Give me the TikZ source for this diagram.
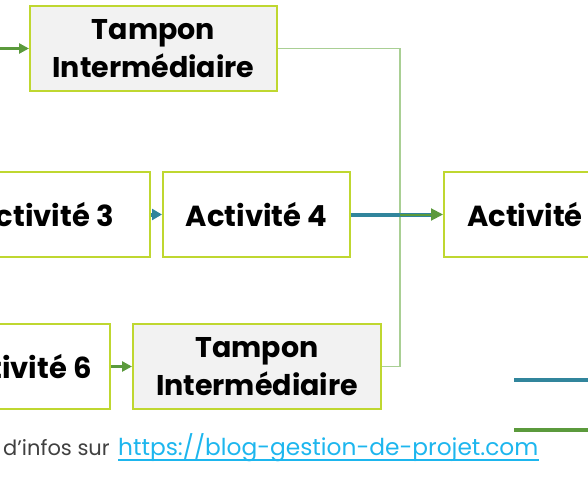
\documentclass[tikz,border=0pt]{standalone}
\usepackage{fontspec}
\setmainfont{Poppins}[Ligatures=Common]
\usetikzlibrary{arrows.meta}
\definecolor{boxborder}{HTML}{BFD730}
\definecolor{tamponfill}{HTML}{F2F2F2}
\definecolor{bluearrow}{HTML}{31859C}
\definecolor{greenarrow}{HTML}{5B9A3C}
\definecolor{thingreen}{HTML}{A9CF94}
\definecolor{linkblue}{HTML}{1DB6EE}
\definecolor{footgray}{HTML}{404040}
\tikzset{
  actbox/.style={draw=boxborder, line width=2pt, fill=white, minimum width=187pt, minimum height=85pt, inner sep=0pt, font=\fontsize{29}{34}\selectfont\bfseries, align=center},
  tamponbox/.style={actbox, fill=tamponfill, minimum width=247pt, font=\fontsize{28.5}{38}\selectfont\bfseries},
  bluelink/.style={draw=bluearrow, line width=4pt},
  greenlink/.style={draw=greenarrow, line width=3pt},
  thinlink/.style={draw=thingreen, line width=1.5pt},
  headg/.style={-{Triangle[length=10pt,width=10pt]}},
}
\begin{document}
\begin{tikzpicture}[x=1pt,y=-1pt]
\useasboundingbox (0,0) rectangle (588,476);
\clip (0,0) rectangle (588,476);
\node[tamponbox] (tampA) at (153.5,48.5) {Tampon\\Intermédiaire};
\node[actbox, minimum width=212pt] (act3) at (44,214.5) {Activité 3};
\node[actbox] (act4) at (256.5,214.5) {Activité 4};
\node[actbox] (act5) at (537.5,214.5) {Activité 5};
\node[actbox, minimum width=177pt] (act6) at (21.5,366.5) {Activité 6};
\node[tamponbox, minimum width=248pt] (tampB) at (257,366.5) {Tampon\\Intermédiaire};
\coordinate (inA) at (0,48.5);
\coordinate (turn) at (400,48.5);
\coordinate (turnB) at (400,366.5);
\coordinate (merge) at (400,214.5);
\draw[greenlink, headg] (inA) -- (tampA.west);
\draw[thinlink] (tampA.east) -- (turn) -- (turnB) -- (tampB.east);
\draw[bluelink, -{Triangle[length=10pt,width=11pt]}] (act3.east) -- (act4.west);
\draw[bluelink] (act4.east) -- ([xshift=-10pt]act5.west);
\draw[greenarrow, line width=2pt, -{Triangle[length=12pt,width=12pt]}] (merge) -- (act5.west);
\draw[greenlink, headg] (act6.east) -- (tampB.west);
\coordinate (lb1) at (514,380);
\coordinate (lb2) at (588,380);
\coordinate (lg1) at (514,430);
\coordinate (lg2) at (588,430);
\draw[bluelink] (lb1) -- (lb2);
\draw[greenlink, line width=4pt] (lg1) -- (lg2);
\node[anchor=base west, inner sep=0pt, font=\fontsize{21}{24}\selectfont, text=footgray] (foot) at (3,455) {d'infos sur};
\node[anchor=base west, inner sep=0pt, font=\fontsize{23.3}{26}\selectfont, text=linkblue] (url) at (118,455) {https://blog-gestion-de-projet.com};
\draw[linkblue, line width=1.3pt] ([yshift=-5pt]url.base west) -- ([yshift=-5pt]url.base east);
\end{tikzpicture}
\end{document}
